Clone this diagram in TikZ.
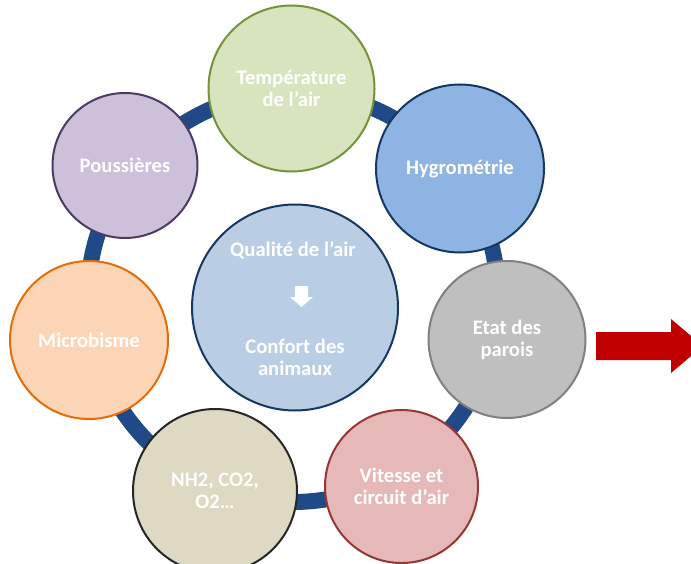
\documentclass[tikz,border=0pt]{standalone}
\usepackage{fontspec}
\setmainfont{Carlito}

\definecolor{ringblue}{HTML}{1F4A87}
\definecolor{tempfill}{HTML}{D7E4BD}
\definecolor{templine}{HTML}{76923C}
\definecolor{pousfill}{HTML}{CCC0DA}
\definecolor{pousline}{HTML}{4B3B63}
\definecolor{hygrofill}{HTML}{8EB4E3}
\definecolor{hygroline}{HTML}{17375E}
\definecolor{microfill}{HTML}{FBD5B5}
\definecolor{microline}{HTML}{E46C0A}
\definecolor{etatfill}{HTML}{BFBFBF}
\definecolor{etatline}{HTML}{808080}
\definecolor{vitfill}{HTML}{E6B9B8}
\definecolor{vitline}{HTML}{953735}
\definecolor{gazfill}{HTML}{DDD9C3}
\definecolor{gazline}{HTML}{262626}
\definecolor{qualfill}{HTML}{B9CDE5}
\definecolor{arrowred}{HTML}{C00000}

\begin{document}
\begin{tikzpicture}[
  x=0.75pt, y=-0.75pt,
  bub/.style 2 args={circle, draw=#1, fill=#2, line width=1.5pt, inner sep=0pt,
    align=center, text=white, font=\bfseries\fontsize{15.5}{16.5}\selectfont},
  lbl/.style={align=center, text=white, inner sep=0pt,
    font=\bfseries\fontsize{15.5}{16.5}\selectfont},
  ring/.style={draw=ringblue, line width=12pt}
]
  \useasboundingbox (0,0) rectangle (691,563);
  \clip (0,0) rectangle (691,563);

  % ring behind the bubbles
  \coordinate (hub) at (293,297);
  \draw[ring] (hub) circle[radius=205];

  \node[bub={templine}{tempfill}, minimum size=124.5pt] (temp) at (291.5,88.5) {Température\\de l’air};
  \node[bub={hygroline}{hygrofill}, minimum size=126pt] (hygro) at (460,168.5) {Hygrométrie};
  \node[bub={etatline}{etatfill}, minimum size=117.75pt] (etat) at (507,339.5) {Etat des\\parois};
  \node[bub={vitline}{vitfill}, minimum size=114.75pt] (vit) at (401.5,486.5) {Vitesse et\\circuit d’air};
  \node[bub={gazline}{gazfill}, minimum size=123pt] (gaz) at (215,491) {NH2, CO2,\\O2…};
  \node[bub={microline}{microfill}, minimum size=118.5pt] (micro) at (89,340) {Microbisme};
  \node[bub={pousline}{pousfill}, minimum size=108.75pt] (pous) at (125,165.5) {Poussières};

  % centre
  \node[bub={hygroline}{qualfill}, minimum size=154.5pt] (qual) at (295,307.5) {};
  \node[lbl] (qualtop) at (293,250) {Qualité de l’air};
  \coordinate (qualarr) at (301.5,296.5);
  \fill[white] (qualarr) ++(-6.5,-10.5) -- ++(13,0) -- ++(0,11) -- ++(5,0)
    -- ++(-11.5,10) -- ++(-11.5,-10) -- ++(5,0) -- cycle;
  \node[lbl] (qualbot) at (295,357) {Confort des\\animaux};

  % big red arrow
  \coordinate (go) at (596,346);
  \fill[arrowred] (go) ++(0,-14) -- ++(75,0) -- ++(0,-13) -- ++(32,27)
    -- ++(-32,27) -- ++(0,-13) -- ++(-75,0) -- cycle;
\end{tikzpicture}
\end{document}
